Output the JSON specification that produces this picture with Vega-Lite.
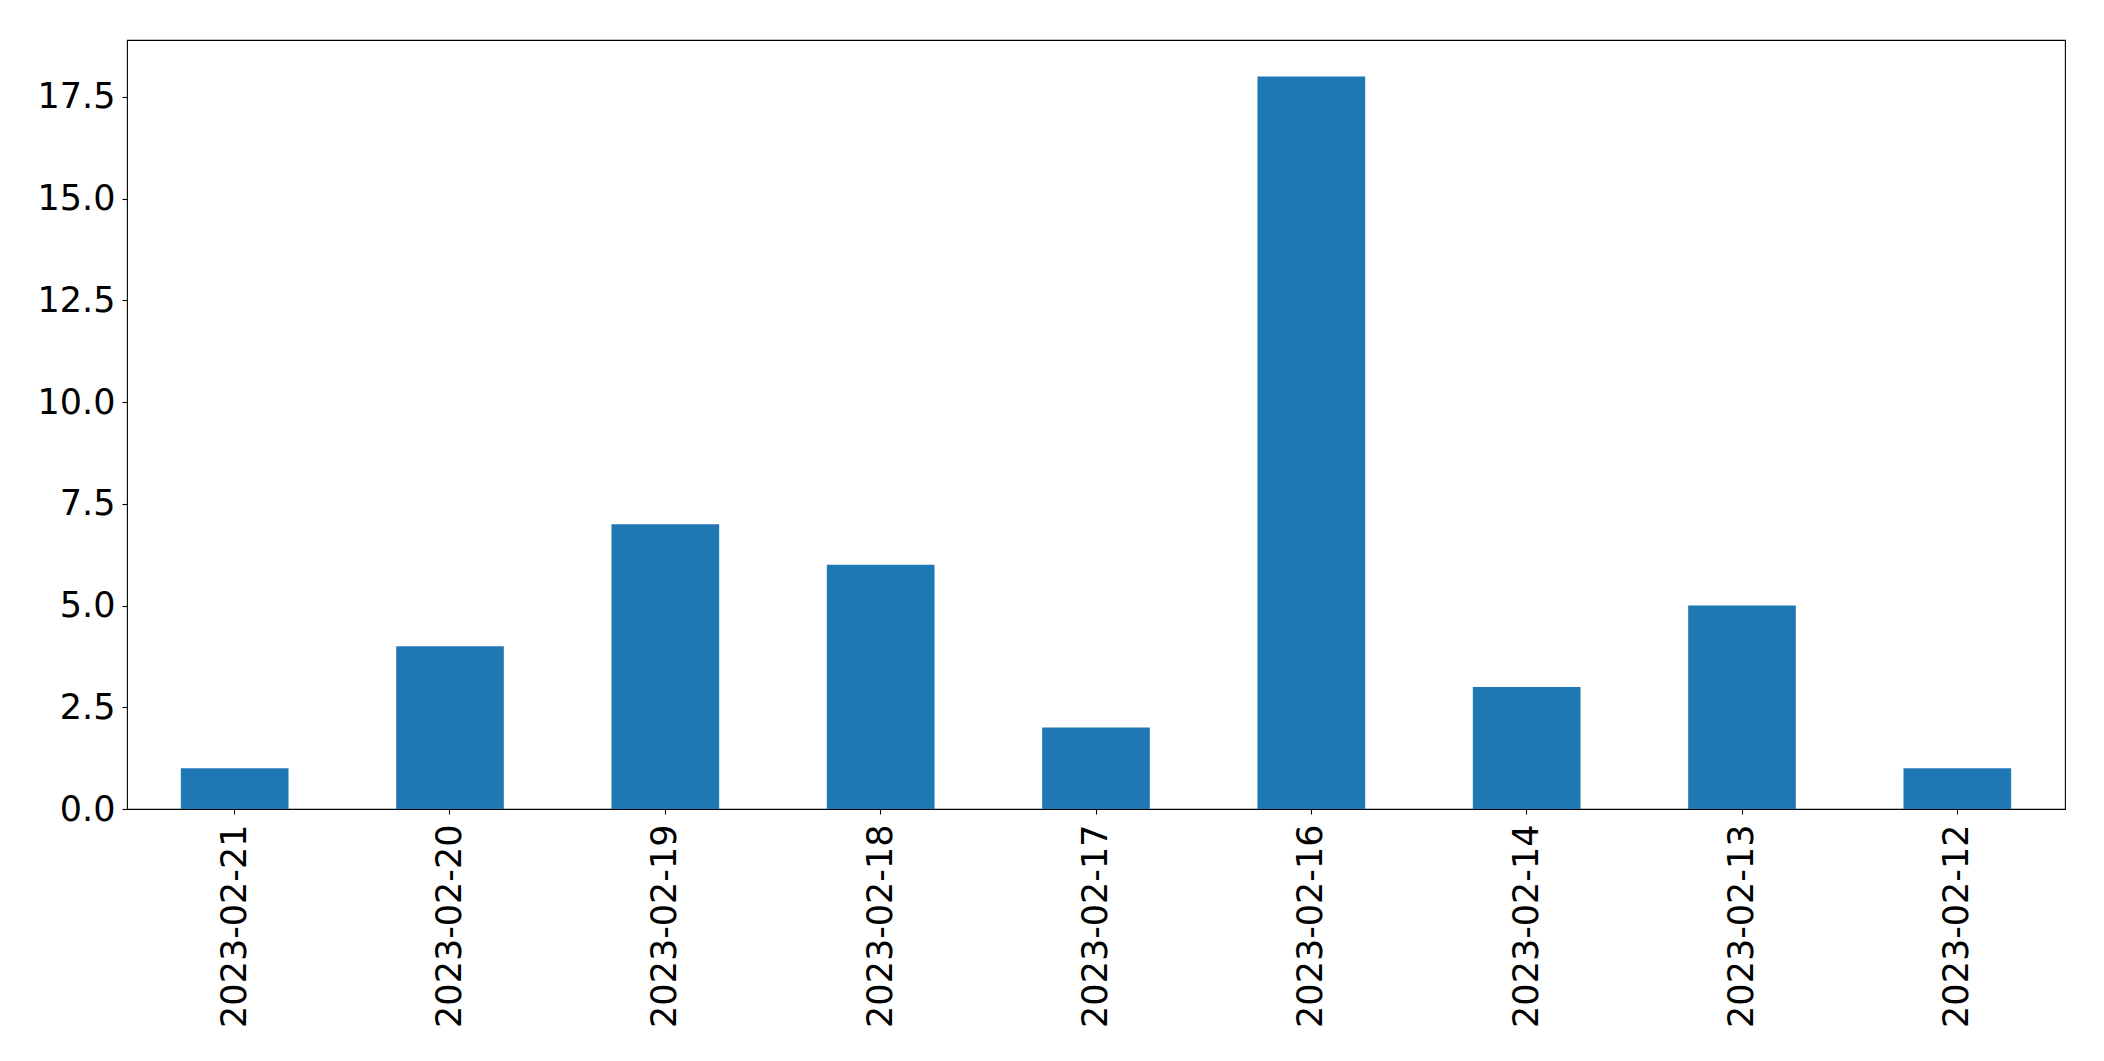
{
  "$schema": "https://vega.github.io/schema/vega-lite/v6.json",
  "autosize": "none",
  "width": 1938,
  "height": 769,
  "padding": {"left": 127, "top": 40, "right": 39, "bottom": 252},
  "background": "white",
  "config": {
    "view": {"stroke": "black", "strokeWidth": 1.1},
    "axis": {
      "labelFont": "DejaVu Sans",
      "labelFontSize": 35,
      "labelColor": "black",
      "labelLimit": 0,
      "tickColor": "black",
      "tickSize": 5,
      "tickWidth": 1.1,
      "domain": false,
      "grid": false,
      "title": null
    }
  },
  "data": {
    "values": [
      {"date": "2023-02-21", "count": 1},
      {"date": "2023-02-20", "count": 4},
      {"date": "2023-02-19", "count": 7},
      {"date": "2023-02-18", "count": 6},
      {"date": "2023-02-17", "count": 2},
      {"date": "2023-02-16", "count": 18},
      {"date": "2023-02-14", "count": 3},
      {"date": "2023-02-13", "count": 5},
      {"date": "2023-02-12", "count": 1}
    ]
  },
  "mark": {"type": "bar", "color": "#1f77b4"},
  "encoding": {
    "x": {
      "field": "date",
      "type": "nominal",
      "sort": null,
      "scale": {"paddingInner": 0.5, "paddingOuter": 0.25},
      "axis": {"labelAngle": -90, "labelPadding": 10, "labelBaseline": "middle", "labelAlign": "right"}
    },
    "y": {
      "field": "count",
      "type": "quantitative",
      "scale": {"domain": [0, 18.9], "nice": false},
      "axis": {"values": [0, 2.5, 5, 7.5, 10, 12.5, 15, 17.5], "format": ".1f", "labelPadding": 7}
    }
  }
}
